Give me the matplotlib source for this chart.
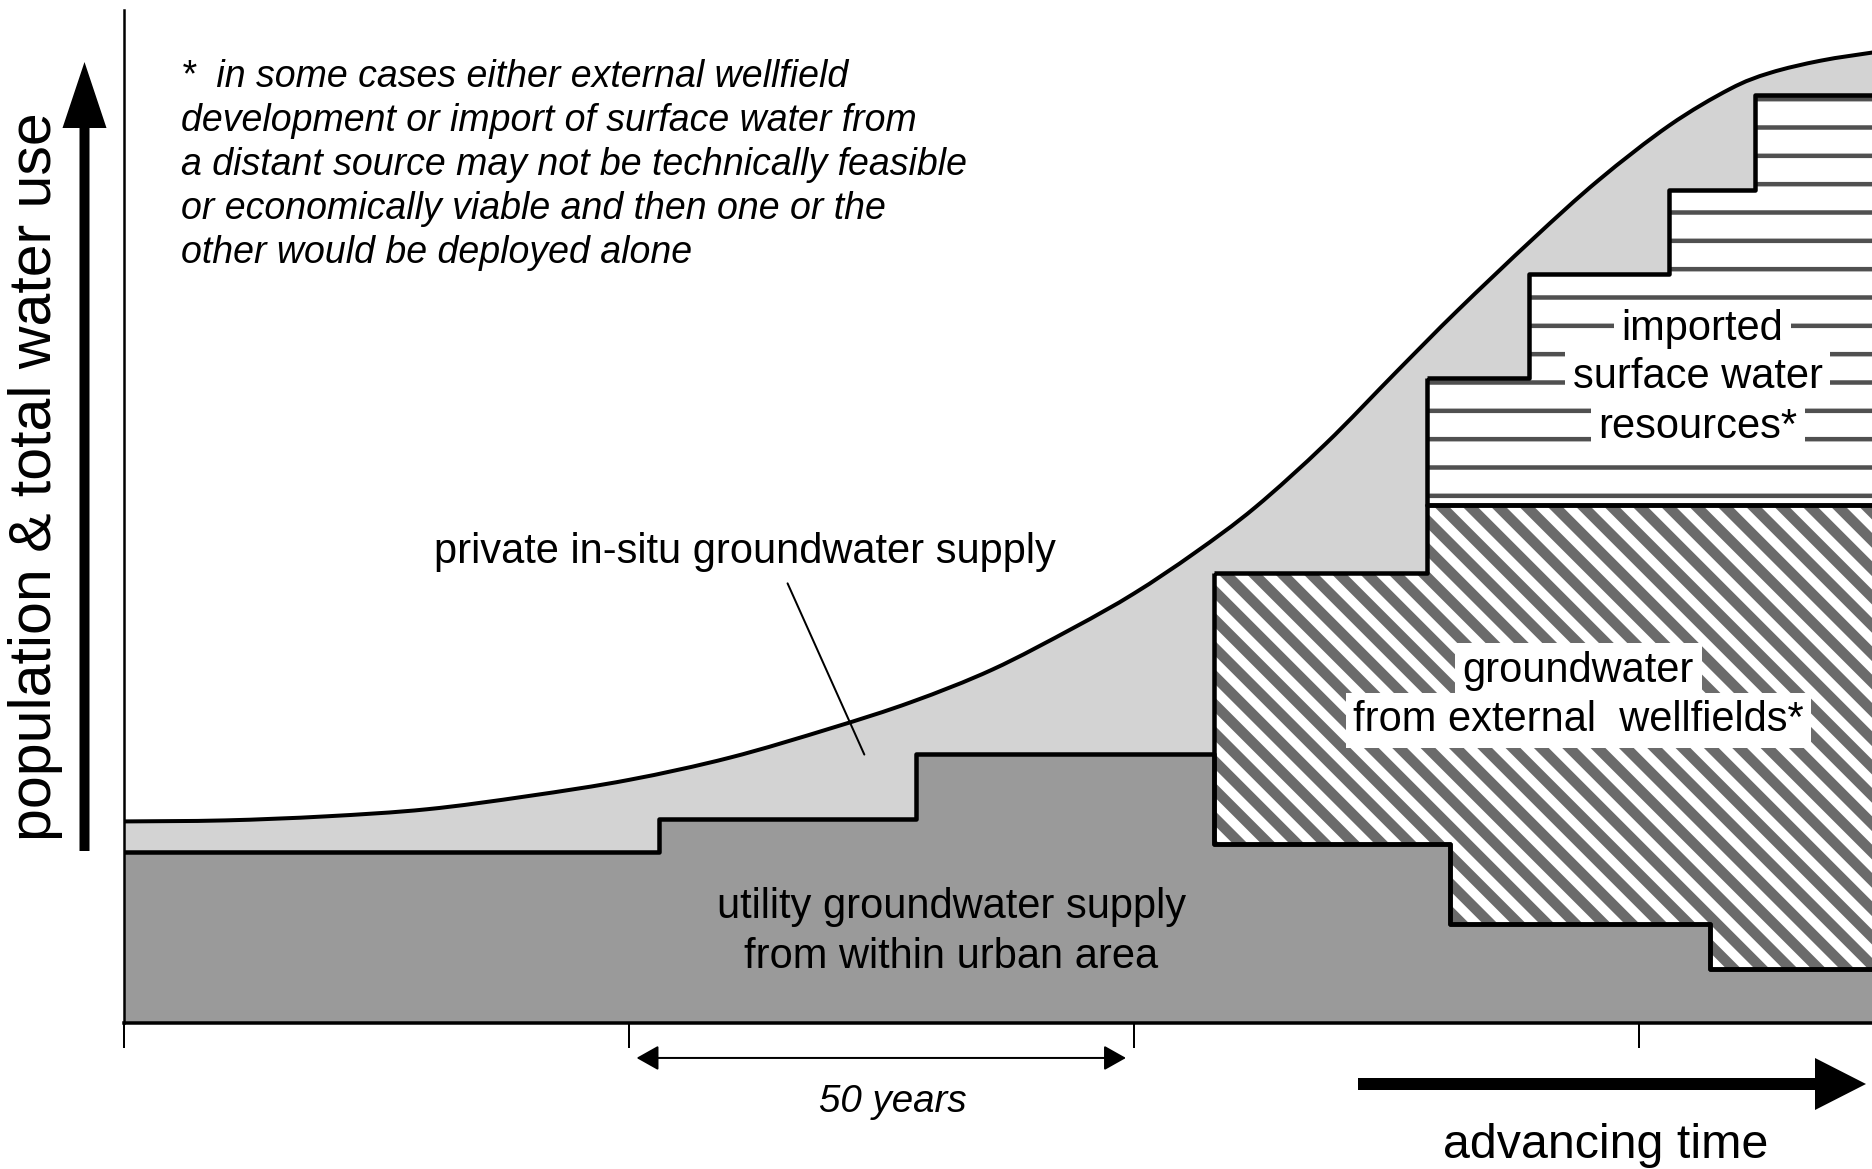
import numpy as np
import matplotlib
matplotlib.use("Agg")
import matplotlib.pyplot as plt
from matplotlib import font_manager
from matplotlib.patches import FancyArrowPatch, PathPatch
from matplotlib.path import Path

# ---------------- data ----------------
curve_years = [0, 10, 20, 30, 40, 50, 60, 70, 78, 86, 94, 100, 106, 112, 119,
               126, 132, 139.5, 146, 153, 159, 163, 168, 173.1]
curve_use = [19.9, 20.0, 20.4, 21.1, 22.4, 24.0, 26.2, 29.1, 31.7, 34.9, 39.0,
             42.4, 46.4, 50.9, 57.2, 64.3, 70.3, 77.4, 83.2, 88.6, 92.2, 93.8,
             95.0, 95.8]

utility_edges = [0, 53.0, 78.4, 107.9, 131.3, 157.0, 174.0]
utility_use = [16.9, 20.1, 26.6, 17.7, 9.8, 5.3]

wellfield_edges = [107.9, 129.0, 174.0]
wellfield_top = [44.4, 51.1]

import_edges = [129.0, 139.1, 153.0, 161.5, 174.0]
import_top = [63.7, 73.9, 82.2, 91.6]

time_ticks = [0, 50, 100, 150]

footnote = ["*  in some cases either external wellfield",
            "development or import of surface water from",
            "a distant source may not be technically feasible",
            "or economically viable and then one or the",
            "other would be deployed alone"]

# ---------------- fonts ----------------
names = {f.name for f in font_manager.fontManager.ttflist}
if "Liberation Sans Narrow" in names:
    NARROW, NS = "Liberation Sans Narrow", 1.0
else:
    NARROW, NS = "Liberation Sans", 0.86
REG = "Liberation Sans"

DPI = 170
W, H = 1872, 1169
PT = 72.0 / DPI  # points per pixel

plt.rcParams["hatch.linewidth"] = 10.5 * PT

fig = plt.figure(figsize=(W / DPI, H / DPI), dpi=DPI)
ax = fig.add_axes([124 / W, 1 - 1023 / H, 1 - 124 / W, (1023 - 10) / H])
ax.set_xlim(0, 173.07)
ax.set_ylim(0, 100.0)


def step_at(edges, vals, x):
    i = np.searchsorted(edges, x, side="right") - 1
    i = np.clip(i, 0, len(vals) - 1)
    return np.asarray(vals, dtype=float)[i]


def smooth_vertices(xs, ys):
    """Bezier (Catmull-Rom) path through the read points."""
    P = np.column_stack([xs, ys]).astype(float)
    n = len(P)
    verts = [P[0]]
    codes = [Path.MOVETO]
    for i in range(n - 1):
        p0 = P[i - 1] if i > 0 else P[i]
        p1, p2 = P[i], P[i + 1]
        p3 = P[i + 2] if i + 2 < n else P[i + 1]
        c1 = p1 + (p2 - p0) / 6.0
        c2 = p2 - (p3 - p1) / 6.0
        verts += [c1, c2, p2]
        codes += [Path.CURVE4] * 3
    return verts, codes


LIGHT = "#d3d3d3"
DARK = "#9a9a9a"
STRIPE = "#6b6b6b"
HLINE = "#505050"
BORDER = 4.5 * PT

# total demand curve (light grey area + black line)
cv, cc = smooth_vertices(curve_years, curve_use)
fill_v = cv + [(curve_years[-1], 0.0), (curve_years[0], 0.0), (curve_years[0], 0.0)]
fill_c = cc + [Path.LINETO, Path.LINETO, Path.CLOSEPOLY]
ax.add_patch(PathPatch(Path(fill_v, fill_c), facecolor=LIGHT, edgecolor="none", lw=0, zorder=1))
ax.add_patch(PathPatch(Path(cv, cc), facecolor="none", edgecolor="k", lw=4 * PT, zorder=2.6))

# utility groundwater supply
u_vals = list(utility_use) + [utility_use[-1]]
ax.fill_between(utility_edges, 0, u_vals, step="post", color=DARK, lw=0, zorder=1.2)
ax.step(utility_edges, u_vals, where="post", color="k", lw=BORDER, zorder=2.4)


def hatched(xs, lo, hi, hatch, color, hlw, z):
    with plt.rc_context({"hatch.linewidth": hlw, "hatch.color": color}):
        coll = ax.fill_between(xs, lo, hi, step="post", facecolor="white",
                               edgecolor=color, linewidth=0, hatch=hatch, zorder=z)
    if hasattr(coll, "set_hatch_linewidth"):
        coll.set_hatch_linewidth(hlw)
    ax.fill_between(xs, lo, hi, step="post", facecolor="none",
                    edgecolor="k", linewidth=BORDER, zorder=2.4)


# external wellfields
wx = np.array(sorted(set([e for e in utility_edges if e >= wellfield_edges[0]] + wellfield_edges)))
w_lo = step_at(utility_edges, utility_use, wx)
w_hi = step_at(wellfield_edges, wellfield_top, wx)
hatched(wx, w_lo, w_hi, "\\\\", STRIPE, 10.5 * PT, 1.5)

# imported surface water
ix = np.array(import_edges)
i_lo = step_at(wellfield_edges, wellfield_top, ix)
i_hi = step_at(import_edges, import_top, ix)
hatched(ix, i_lo, i_hi, "-", HLINE, 4.5 * PT, 1.6)

# axes styling
for s in ("top", "right"):
    ax.spines[s].set_visible(False)
ax.spines["left"].set_linewidth(2.5 * PT)
ax.spines["bottom"].set_linewidth(3.5 * PT)
ax.spines["left"].set_zorder(3)
ax.spines["bottom"].set_zorder(3)
ax.set_xticks(time_ticks)
ax.set_xticklabels([])
ax.set_yticks([])
ax.tick_params(axis="x", length=25 * PT, width=2 * PT, direction="out", color="k")

# labels inside
ax.annotate("", xy=(73.3, 26.5), xytext=(65.7, 43.4),
            arrowprops=dict(arrowstyle="-", lw=2 * PT, color="k", shrinkA=0, shrinkB=0),
            zorder=3)
lab = dict(family=NARROW, fontsize=20.5 * NS, color="k", ha="center", va="baseline")
ax.text(61.5, 45.4, "private in-situ groundwater supply", zorder=4, **lab)
ax.text(81.9, 10.4, "utility groundwater supply", zorder=4, **lab)
ax.text(81.9, 5.45, "from within urban area", zorder=4, **lab)

box = dict(boxstyle="square,pad=0.18", facecolor="white", edgecolor="none")
ax.text(144.0, 33.7, "groundwater", zorder=4, bbox=box, **lab)
ax.text(144.0, 28.8, "from external  wellfields*", zorder=4, bbox=box, **lab)
ax.text(156.3, 67.4, "imported", zorder=4, bbox=box, **lab)
ax.text(155.8, 62.7, "surface water", zorder=4, bbox=box, **lab)
ax.text(155.8, 57.7, "resources*", zorder=4, bbox=box, **lab)

# footnote
for k, line in enumerate(footnote):
    ax.text(5.64, 92.4 - 4.35 * k, line, family=NARROW, style="italic",
            fontsize=18.5 * NS, ha="left", va="baseline", zorder=4)

# 50 years marker
ax.annotate("", xy=(100, -3.45), xytext=(50, -3.45), xycoords="data",
            arrowprops=dict(arrowstyle="<|-|>,head_length=0.8,head_width=0.45",
                            mutation_scale=10, lw=2 * PT, color="k",
                            shrinkA=3.2, shrinkB=3.4),
            annotation_clip=False)
ax.text(76.1, -8.8, "50 years", family=NARROW, style="italic", fontsize=19 * NS,
        ha="center", va="baseline", clip_on=False)

# y arrow (figure pixels)
ya = FancyArrowPatch((84.5, H - 851), (84.5, H - 62), transform=None,
                     arrowstyle=f"simple,head_length={66 * PT},head_width={44 * PT},tail_width={10 * PT}",
                     mutation_scale=1, color="k", lw=0, shrinkA=0, shrinkB=0)
fig.add_artist(ya)
# time arrow
ta = FancyArrowPatch((1358, H - 1084), (1866, H - 1084), transform=None,
                     arrowstyle=f"simple,head_length={51 * PT},head_width={52 * PT},tail_width={12 * PT}",
                     mutation_scale=1, color="k", lw=0, shrinkA=0, shrinkB=0)
fig.add_artist(ta)

fig.text(35.5 / W, 1 - 476.5 / H, "population & total water use", family=REG,
         fontsize=25, rotation=90, ha="center", va="center")
fig.text(1606 / W, 1 - 1158 / H, "advancing time", family=REG,
         fontsize=20.5, ha="center", va="baseline")

fig.savefig("out.png", dpi=DPI)
